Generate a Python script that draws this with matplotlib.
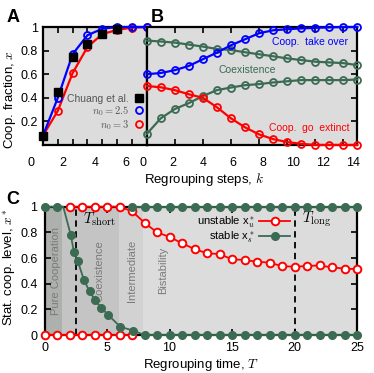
import numpy as np
import matplotlib.pyplot as plt
from matplotlib.lines import Line2D
from matplotlib import transforms

plt.rcParams['font.family'] = ['Liberation Sans', 'DejaVu Sans']
plt.rcParams['mathtext.fontset'] = 'cm'

BLUE = '#0000ff'
RED = '#ff0000'
GREEN = '#3b6b53'
BG = '#dcdcdc'

# ---- panel A: fraction of cooperators vs regrouping steps
k_a = [0, 1, 2, 3, 4, 5, 6, 7]
chuang_k = [0, 1, 2, 3, 4, 5]
chuang = [0.08, 0.45, 0.75, 0.86, 0.94, 0.98]
a_n25 = [0.08, 0.40, 0.77, 0.93, 0.985, 1.0, 1.0, 1.0]
a_n3 = [0.08, 0.29, 0.61, 0.83, 0.94, 0.975, 0.995, 1.0]
a_labels = ['0', '2', '4', '6']
a_label_pos = [-0.81, 1.35, 3.51, 5.6]

# ---- panel B: longer runs from different initial conditions
k_b = list(range(16))
b_takeover = [0.60, 0.61, 0.634, 0.67, 0.727, 0.783, 0.845, 0.896,
              0.947, 0.972, 0.981, 0.988, 0.993, 0.997, 1.0, 1.0]
b_coex_hi = [0.885, 0.877, 0.868, 0.851, 0.834, 0.814, 0.805, 0.786,
             0.769, 0.752, 0.734, 0.72, 0.706, 0.70, 0.694, 0.677]
b_coex_lo = [0.093, 0.226, 0.305, 0.355, 0.415, 0.465, 0.487, 0.507,
             0.516, 0.53, 0.54, 0.55, 0.55, 0.55, 0.55, 0.555]
b_extinct = [0.50, 0.489, 0.465, 0.43, 0.40, 0.32, 0.226, 0.15,
             0.09, 0.05, 0.025, 0.01, 0.0, 0.0, 0.0, 0.0]
b_labels = ['0', '2', '4', '6', '8', '10', '12', '14']
b_label_pos = [-0.26, 1.87, 4.01, 6.15, 8.28, 10.42, 12.56, 14.69]

# ---- panel C: stationary cooperation level vs regrouping time
stable_T = [0, 1, 1.5, 2.1, 2.35, 2.65, 3.15, 3.6, 4.05, 4.55, 5.1, 6.05, 7.1] + list(range(8, 26))
stable_x = [1.0, 1.0, 1.0, 0.78, 0.65, 0.58, 0.43, 0.34, 0.27, 0.21, 0.156, 0.065, 0.034] + [0.0] * 18
stable_hi_T = list(range(7, 26))
stable_hi_x = [1.0] * 19
unstable_lo_T = list(range(0, 8))
unstable_lo_x = [0.0] * 8
unstable_T = list(range(2, 26))
unstable_x = [1.0, 1.0, 1.0, 1.0, 1.0, 0.965, 0.875, 0.80, 0.765, 0.715, 0.67, 0.637,
              0.631, 0.59, 0.585, 0.571, 0.564, 0.537, 0.532, 0.538, 0.542, 0.527, 0.518, 0.513]
region_edges = [0, 1.37, 5.95, 7.9, 25]
region_names = ['Pure Cooperation', 'Coexistence', 'Intermediate', 'Bistability']
region_colors = ['#adb1ad', '#c4c4c4', '#d2d2d2', BG]
region_label_T = [0.95, 4.4, 7.0, 9.5]
T_short = 2.55
T_long = 20

W, H = 374, 373


def fx(px):
    return px / W


def fy(py):
    return 1 - py / H


def style_frame(ax):
    ax.set_facecolor(BG)
    for s in ax.spines.values():
        s.set_linewidth(1.6)
    ax.tick_params(direction='in', length=4, width=1.2, labelsize=9)


def put_xlabels(ax, pos, labels, y=-0.155):
    trans = transforms.blended_transform_factory(ax.transData, ax.transAxes)
    for p, lab in zip(pos, labels):
        ax.text(p, y, lab, transform=trans, ha='center', va='center',
                fontsize=9, clip_on=False)


fig = plt.figure(figsize=(3.74, 3.73), dpi=100)

ax_a = fig.add_axes([fx(43), fy(145), fx(146.7) - fx(43), fy(27) - fy(145)])
ax_b = fig.add_axes([fx(146.7), fy(145), fx(357.3) - fx(146.7), fy(27) - fy(145)])
ax_c = fig.add_axes([fx(44.5), fy(335), fx(357) - fx(44.5), fy(206.7) - fy(335)])

# panel A
style_frame(ax_a)
mk = dict(marker='o', ms=5, mfc='none', mew=1.3, lw=1.6, clip_on=False, zorder=3)
ax_a.plot(k_a, a_n3, color=RED, **mk)
ax_a.plot(k_a, a_n25, color=BLUE, **mk)
ax_a.plot(chuang_k, chuang, 's', color='black', ms=6, clip_on=False, zorder=4)
ax_a.set_xlim(0, 7)
ax_a.set_ylim(0, 1)
ax_a.set_xticks(range(1, 7))
ax_a.set_xticklabels([])
ax_a.set_yticks([0.2, 0.4, 0.6, 0.8, 1.0])
ax_a.set_yticklabels(['0.2', '0.4', '0.6', '0.8', '1'])
ax_a.tick_params(top=True, bottom=True, left=True, right=False)
put_xlabels(ax_a, a_label_pos, a_labels)
handles = [
    Line2D([], [], ls='none', marker='s', color='black', ms=6),
    Line2D([], [], ls='none', marker='o', mec=BLUE, mfc='none', mew=1.3, ms=5),
    Line2D([], [], ls='none', marker='o', mec=RED, mfc='none', mew=1.3, ms=5),
]
ax_a.legend(handles, ['Chuang et al.', r'$n_0 = 2.5$', r'$n_0 = 3$'],
            loc='upper right', bbox_to_anchor=(0.98, 0.44), frameon=False,
            markerfirst=False, fontsize=7.5, labelcolor='#555555',
            handlelength=0.8, handletextpad=0.6, labelspacing=0.0,
            borderpad=0.1, borderaxespad=0)

# panel B
style_frame(ax_b)
ax_b.plot(k_b, b_coex_hi, color=GREEN, **mk)
ax_b.plot(k_b, b_coex_lo, color=GREEN, **mk)
ax_b.plot(k_b, b_extinct, color=RED, **mk)
ax_b.plot(k_b, b_takeover, color=BLUE, **mk)
ax_b.set_xlim(0, 15)
ax_b.set_ylim(0, 1)
ax_b.set_xticks(range(2, 15, 2))
ax_b.set_xticklabels([])
ax_b.set_yticks([0.2, 0.4, 0.6, 0.8])
ax_b.set_yticklabels([])
ax_b.tick_params(top=True, bottom=True, left=False, right=True)
put_xlabels(ax_b, b_label_pos, b_labels)
ax_b.text(14.35, 0.873, 'Coop.  take over', color=BLUE, fontsize=7.5,
          ha='right', va='center')
ax_b.text(7.15, 0.635, 'Coexistence', color=GREEN, fontsize=7.5,
          ha='center', va='center')
ax_b.text(14.45, 0.144, 'Coop.  go  extinct', color=RED, fontsize=7.5,
          ha='right', va='center')

fig.text(fx(204), fy(180), r'Regrouping steps, $k$', ha='center', va='center', fontsize=9.5)
fig.text(fx(10), fy(100), r'Coop. fraction, $x$', rotation=90, ha='center', va='center', fontsize=9.5)

# panel C
style_frame(ax_c)
for lo, hi, col in zip(region_edges[:-1], region_edges[1:], region_colors):
    ax_c.axvspan(lo, hi, color=col, lw=0, zorder=0)
for t, name in zip(region_label_T, region_names):
    ax_c.text(t, 0.5, name, rotation=90, ha='center', va='center',
              fontsize=8, color='#7a7a7a', zorder=1)
for t in (T_short, T_long):
    ax_c.axvline(t, color='black', ls=(0, (3.5, 2.5)), lw=1.3, zorder=1)
ax_c.text(T_short + 0.5, 0.9, r'$T_{\rm short}$', fontsize=10.5, va='center', ha='left')
ax_c.text(T_long + 0.6, 0.9, r'$T_{\rm long}$', fontsize=10.5, va='center', ha='left')

umk = dict(marker='o', ms=5.5, mfc='white', mec=RED, mew=1.4, lw=1.3,
           color=RED, clip_on=False, zorder=3)
smk = dict(marker='o', ms=5.5, color=GREEN, lw=1.3, clip_on=False, zorder=4)
ax_c.plot(unstable_lo_T, unstable_lo_x, **umk)
ax_c.plot(unstable_T, unstable_x, **umk)
ax_c.plot(stable_hi_T, stable_hi_x, **smk)
ax_c.plot(stable_T, stable_x, markevery=[i for i in range(len(stable_T)) if i != 2], **smk)

ax_c.set_xlim(0, 25)
ax_c.set_ylim(0, 1)
ax_c.set_xticks(range(0, 26, 5))
ax_c.set_yticks([0, 0.2, 0.4, 0.6, 0.8, 1.0])
ax_c.set_yticklabels(['0', '0.2', '0.4', '0.6', '0.8', '1'])
ax_c.tick_params(top=True, bottom=True, left=True, right=True, pad=5)
ax_c.set_xlabel(r'Regrouping time, $T$', fontsize=9.5, labelpad=2)
fig.text(fx(10), fy(267), r'Stat. coop. level, $x^*$', rotation=90, ha='center', va='center', fontsize=9.5)

c_handles = [
    Line2D([], [], marker='o', ms=5.5, mfc='white', mec=RED, mew=1.4, lw=1.3, color=RED),
    Line2D([], [], marker='o', ms=5.5, color=GREEN, lw=1.3),
]
ax_c.legend(c_handles, [r'unstable x$^*_u$', r'stable x$^*_s$'],
            loc='upper right', bbox_to_anchor=(0.79, 0.95), frameon=False,
            markerfirst=False, fontsize=8, handlelength=2.8,
            handletextpad=0.4, labelspacing=0.05, borderpad=0.1, borderaxespad=0)

for lab, x, y in (('A', 13, 17), ('B', 157, 17), ('C', 13, 199)):
    fig.text(fx(x), fy(y), lab, fontsize=13, fontweight='bold', ha='center', va='center')

fig.savefig('out.png', dpi=100)
